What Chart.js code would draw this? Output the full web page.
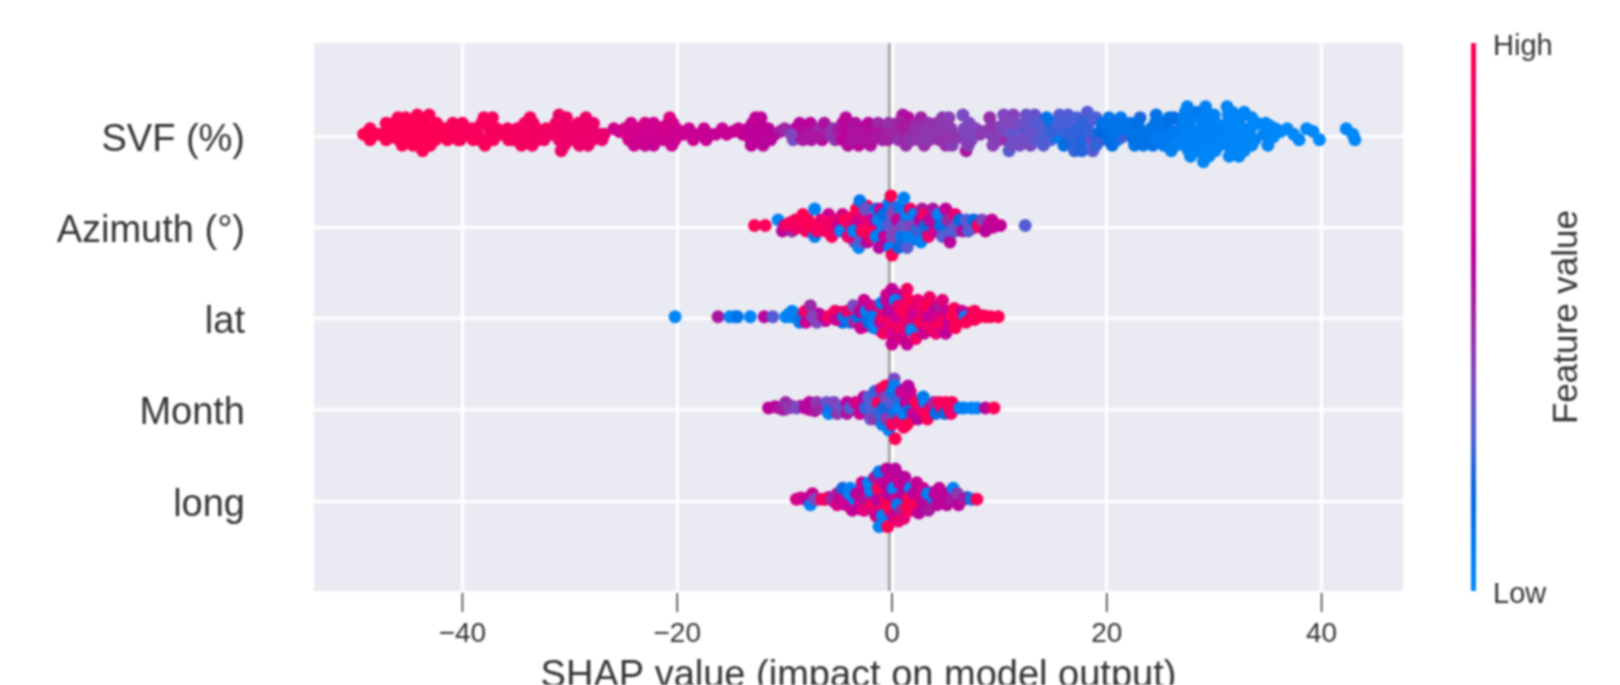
<!DOCTYPE html>
<html>
<head>
<meta charset="utf-8">
<title>SHAP summary</title>
<script src="https://cdn.jsdelivr.net/npm/chart.js@4"></script>
<style>
html, body { margin: 0; padding: 0; background: #fff; overflow: hidden; }
canvas { display: block; filter: blur(0.8px); }
</style>
</head>
<body>
<canvas id="myChart" width="1620" height="685"></canvas>
<script>
// names of the rows, top to bottom, and where they sit on the y scale
const features = ['SVF (%)', 'Azimuth (°)', 'lat', 'Month', 'long'];
const rowPos = [4, 3, 2, 1, 0];
const xTicks = [-40, -20, 0, 20, 40];

// every dot: [shap value, swarm lane, feature value 0-1]
const svfDots = [
[-49.2,0,.99],[-48.6,1,.99],[-48.6,-1,.99],[-48.2,0,.98],[-47.4,0,.98],[-47.1,2,.98],[-47.1,-1,.97],[-46.7,1,.97],
[-46,3,.98],[-45.9,1,.98],[-45.9,-1,.98],[-45.6,-2,.97],[-45.3,3,.97],[-45.3,0,.98],[-44.9,2,.99],[-44.6,-2,.98],
[-44.2,3.5,.98],[-44.2,1,.99],[-44,-1,.99],[-43.7,-3,.98],[-43.6,2,.98],[-43.4,0,.99],[-43.1,3.5,.97],[-43,-2,.98],
[-42.7,1,.98],[-42.5,-1,.99],[-42.4,2,.97],[-41.7,1,.97],[-41.4,-1,.98],[-40.9,2,.96],[-40.8,0,.93],[-40.2,-1,.96],
[-40,2,.93],[-39.7,0,.95],[-39.3,1,.96],[-39,-1,.95],[-38.6,0,.95],[-38.2,2,.96],[-38,3,.95],[-37.9,-2,.95],
[-37.5,1,.95],[-37.2,3,.95],[-37.1,-1,.96],[-36.8,1,.94],[-36.2,0,.94],[-35.8,1,.93],[-35.7,-1,.93],[-35.2,-1,.94],
[-34.9,1,.93],[-34.5,-2,.92],[-34.2,2,.92],[-33.9,0,.93],[-33.7,3,.92],[-33.5,-2,.92],[-33.1,1,.93],[-33,-1,.91],
[-32.4,-1,.91],[-32.2,1,.92],[-31.8,0,.9],[-31.3,2,.91],[-31,-1,.9],[-31,3.5,.88],[-30.8,-3,.89],[-30.7,1,.9],
[-30.5,-2,.88],[-30.3,3,.88],[-29.9,1,.9],[-29.6,-1,.88],[-29.2,2,.89],[-29.1,-2,.87],[-28.7,0,.89],[-28.5,3,.88],
[-28.3,-2,.87],[-28,1,.88],[-27.9,-1,.87],[-27.8,2,.87],[-27.2,0,.85],[-26.8,0,.84],[-27,-1,.86],[-25.9,1,.73],
[-25.4,.5,.72],[-24.7,0,.75],[-24.5,-1,.76],[-24.3,2,.74],[-24,-2,.7],[-23.6,1,.75],[-23.3,-1,.78],[-23,-2,.68],
[-23,2,.75],[-22.6,0,.73],[-22.2,-2,.66],[-22.2,2,.72],[-21.6,1,.72],[-21.3,-1,.72],[-20.8,0,.71],[-20.7,3,.78],
[-20.5,-2,.7],[-20.4,2,.76],[-20.1,1,.72],[-19.4,0,.7],[-18.9,1,.7],[-18.5,-1,.68],[-18,0,.7],[-17.5,1,.68],
[-17.3,-1,.68],[-17,0,.66],[-16.4,0,.67],[-15.8,1,.68],[-15.4,0,.66],[-14.8,.5,.66],[-14.3,1,.68],[-13.9,0,.66],
[-13.4,1,.62],[-13.1,-2,.62],[-13,2,.6],[-12.7,3,.65],[-12.5,-1,.62],[-12.4,1,.63],[-12.2,3,.64],[-12,-2,.6],
[-11.9,0,.63],[-11.5,1,.6],[-11.3,-1,.62],[-10.9,0,.6],[-10.4,.5,.55],[-10,1,.5],[-9.2,-1,.37],[-9,1,.58],
[-8.8,0,.6],[-8.6,2,.6],[-8.3,-1,.55],[-8,1,.58],[-7.6,2,.6],[-7.5,-1,.55],[-7.1,0,.56],[-6.8,1,.5],
[-6.5,-1,.6],[-6.3,2,.56],[-5.9,0,.48],[-5.5,1,.46],[-5.3,-1,.46],[-5,0,.5],[-4.6,2,.58],[-4.6,-1,.62],
[-4.3,3,.6],[-4.1,0,.62],[-4.1,-2,.58],[-3.4,2,.57],[-3.2,0,.48],[-3.1,-2,.6],[-2.7,1,.63],[-2.4,-1,.55],
[-2.2,2,.6],[-2,-2,.58],[-1.9,0,.62],[-1.3,2,.5],[-1.1,0,.64],[-.9,-1,.5],[-.6,1,.52],[-.4,-1,.52],
[-.3,2,.48],[.5,2,.5],[.6,-1,.46],[1,3.5,.56],[1.1,0,.52],[1.3,-2,.48],[1.5,3,.58],[1.6,1,.52],
[1.9,-1,.46],[2.2,2,.5],[2.7,3,.52],[2.9,0,.45],[3,-2,.48],[3.4,2,.46],[3.5,-1,.45],[4.2,2,.47],
[4.4,-1,.48],[4.7,3,.45],[4.9,0,.5],[5,-2,.48],[5.3,3,.42],[5.5,1,.44],[5.6,-2,.42],[6,-.5,.45],
[6.6,3.5,.38],[6.7,1,.4],[6.8,-1,.42],[6.9,-3,.55],[7.2,2,.38],[7.4,-1,.38],[7.8,1,.42],[8.2,0,.44],
[8.6,.5,.44],[9.1,3,.48],[9.2,0,.42],[9.4,-2,.42],[9.8,1,.42],[10,-1,.45],[10.4,3.5,.4],[10.6,1,.38],
[10.7,-1,.5],[10.9,-3,.3],[11.3,3.5,.42],[11.4,-1,.4],[11.7,1,.3],[11.9,-2,.38],[12.3,1,.2],[12.5,3.5,.35],
[12.7,-1,.38],[12.9,-2,.38],[13.1,1,.36],[13.3,3.5,.34],[13.4,-1,.32],[13.8,0,.32],[14.1,-2,.3],[14.4,3,.12],
[14.5,1,.28],[14.8,-1,.28],[15,2,.12],[15.4,-.5,.08],[15.6,3.5,.3],[15.8,1,.3],[16,-2,.15],[16.4,3.5,.3],
[16.4,-1,.2],[16.9,1,.28],[17,-3,.25],[17.2,3,.28],[17.5,-1,.22],[17.7,-3,.22],[17.8,1,.2],[18.2,4,.3],
[18.3,2,.28],[18.5,-1,.35],[18.7,-3,.3],[19,0,.22],[19,3,.28],[19.5,2,.12],[19.6,-1,.3],[19.9,0,.1],
[20.2,3,.1],[20.5,-2,.15],[20.8,1,.15],[21,-1,.1],[21.3,3,.1],[21.4,-.5,.25],[22.2,2,.1],[22.5,-1,.15],
[22.9,0,.12],[23.1,3,.22],[23.4,-2,.1],[24.1,1,.12],[24.3,-2,.12],[24.6,3.5,.12],[24.9,0,.08],[25.2,2,.12],
[25.3,-2,.08],[25.7,1,.14],[26,-3,.05],[26.2,3,.18],[26.5,-1,.06],[26.8,1,.1],[27.1,3,.06],[27.2,-2,.05],
[27.5,5,.05],[27.6,1,.04],[27.8,-4,.03],[28,3,.05],[28.1,-1,.04],[28.4,4,.08],[28.5,-3,.04],[28.7,1,.05],
[29,-5,.03],[29.2,5,.05],[29.2,-2,.05],[29.3,2,.04],[29.5,-4,.03],[29.6,0,.06],[30,3.5,.04],[30.1,-3,.03],
[30.4,1,.05],[30.7,-1,.04],[31.2,5,.04],[31.2,2,.03],[31.3,-2,.04],[31.4,-4,.02],[31.7,4,.03],[31.9,0,.03],
[32.3,-4,.03],[32.3,2,.03],[32.8,4,.03],[32.9,-2,.02],[33.2,1,.03],[33.5,3,.02],[33.8,-1,.03],[34,2,.02],
[34.8,2,.03],[35,-2,.03],[35.2,0,.02],[35.7,1,.02],[36.8,1,.02],[37.4,0,.02],[37.9,-1,.02],[38.6,1,.02],
[39.2,.5,.02],[39.8,-1,.01],[42.3,1,.02],[42.9,0,.02],[43.1,-1,.02],
[-47.8,0,.98],[-46.5,-.5,.98],[-46.4,2,.98],[-45.7,0,.98],[-45.2,-1.5,.98],[-44.8,0,.99],[-44.5,1,.99],[-44.3,-1,.98],
[-43.9,2,.99],[-43.8,-2,.98],[-43.2,1,.99],[-42.9,-.5,.98],[-42.3,0,.98],[-41.9,0,.97],[-41.2,.5,.96],[-40.5,1,.95],
[-40.4,-1,.96],[-39.9,0,.95],[-38.9,1,.95],[-38.4,-1,.95],[-37.7,-1,.95],[-37.7,2,.95],[-37.3,0,.94],[-36.6,0,.94],
[-35,0,.93],[-34.6,1,.92],[-34.4,-1,.92],[-33.7,1,.92],[-33.4,2,.92],[-33.3,0,.91],[-32.7,0,.91],[-31.2,0,.9],
[-30.9,1.5,.9],[-30.6,-1,.89],[-30.2,1.5,.89],[-30,-1,.88],[-29.5,.5,.88],[-29.3,-1,.88],[-28.8,1,.88],[-28.6,-1,.87],
[-28.2,0,.87],[-27.6,0,.86],[-24.9,1,.75],[-24.2,0,.74],[-23.9,1,.74],[-23.8,-1,.72],[-23.2,.5,.74],[-22.9,-1,.7],
[-22.4,1,.72],[-22,-.5,.7],[-21.9,0,.72],[-21.1,1.5,.74],[-20.9,-1,.7],[-20.3,0,.72],[-20.2,-1,.7],[-19.7,.5,.7],
[-13.3,-.5,.62],[-13,0,.62],[-12.6,2,.64],[-12.3,-.5,.62],[-12.1,1.5,.62],[-11.7,-1,.6],[-9.4,0,.4],[-7.9,0,.56],
[-7.8,-.5,.55],[-6.9,-.5,.55],[-4.9,1,.55],[-4.4,1,.6],[-3.8,-.5,.58],[-3.6,1,.56],[-3.5,-1,.55],[-2.9,.5,.56],
[-2.6,-1,.56],[-2.1,.5,.58],[-1.6,-.5,.55],[.3,.5,.5],[.8,2,.5],[1,1.5,.54],[1.2,-1,.5],[1.7,-1,.46],
[2,.5,.48],[2.5,-1,.46],[2.6,1,.48],[3.2,1,.46],[3.3,-.5,.44],[3.9,0,.46],[4.1,1,.46],[4.5,-.5,.46],
[4.6,1,.45],[5.1,1.5,.44],[5.2,-.5,.46],[6.9,.5,.4],[7.1,-2,.42],[7.4,1,.4],[9.3,1.5,.45],[9.5,-.5,.42],
[10,.5,.42],[10.2,1.5,.4],[10.8,.5,.36],[10.8,2,.4],[11.1,-2,.36],[11.5,.5,.32],[11.6,2,.38],[12.2,-.5,.36],
[12.6,2,.34],[12.8,.5,.34],[13.5,2,.3],[14.2,-.5,.28],[14.9,.5,.25],[15.5,2,.28],[16,.5,.25],[16.2,2,.28],
[16.6,0,.25],[17,-1,.24],[17.3,1,.24],[17.6,-2,.22],[17.8,2,.24],[18.3,.5,.25],[18.6,3,.28],[19,-2,.25],
[19.4,.5,.18],[20,1.5,.12],[20.2,-1,.15],[20.6,0,.12],[20.9,2,.12],[21.3,1,.12],[22.3,.5,.12],[22.6,-2,.12],
[22.9,2,.14],[23.3,.5,.12],[23.3,-1,.12],[24.2,-.5,.1],[24.5,2,.12],[24.7,-1,.08],[25,1,.1],[25.4,-.5,.08],
[25.8,3,.12],[25.9,-1,.08],[26.2,.5,.08],[26.4,-2,.05],[26.9,-1,.05],[27,1,.06],[27.3,4,.05],[27.4,-.5,.04],
[27.6,-3,.03],[27.7,2.5,.05],[28,-2,.04],[28.2,.5,.05],[28.6,-1,.04],[28.8,3,.05],[28.9,-2,.04],[29,-3.5,.03],
[29.2,1,.04],[29.4,3.5,.04],[29.6,-2.5,.03],[30,.5,.05],[30.1,-1,.04],[30.2,2,.04],[30.5,-2,.03],[30.9,.5,.04],
[31.3,3.5,.03],[31.4,-.5,.03],[31.6,1,.03],[31.8,-2.5,.03],[32,2.5,.03],[32.2,-1,.03],[32.5,.5,.03],[32.6,3.5,.03],
[32.8,-3,.02],[33,-.5,.03],[33.4,1,.03],[33.5,-2,.02],[33.8,2,.02],[34.6,0,.03],[35.2,1.5,.02],[35.5,-.5,.02],
[36.2,.5,.02]
];
const azimuthDots = [
[-12.8,0,.98],[-11.8,0,.95],[-10.6,1,.03],[-10.2,-1,.6],[-9.7,0,.85],[-9.3,-1,.5],[-9,1,.95],[-8.6,0,.98],
[-8.3,2,.98],[-8,-1,.9],[-7.8,1,.97],[-7.2,3,.05],[-7.2,-2,.08],[-6.9,0,.98],[-6.6,1,.85],[-6.2,-1,.9],
[-5.9,2,.7],[-5.8,0,.93],[-5.6,-2,.95],[-5.2,1,.85],[-10,0,.85],[-9.5,.5,.95],[-8.9,-.5,.9],[-8.5,1,.97],
[-7.6,0,.98],[-7,-1,.9],[-6.5,-.5,.95],[-6.2,.7,.9],[-5.5,-1,.9],[-5,0,.7],[-4.6,2,.75],[-4.2,-.5,.95],
[-3.7,1.5,.95],[-3.5,-3,.4],[-3.4,.5,.98],[-2.6,-2,.7],[-2.3,3.5,.95],[-1.8,-1,.95],[-1.6,-.3,.75],[-1.1,1.5,.65],
[-.9,-3,.6],[-.6,1,.4],[-.5,-1,.65],[.1,.5,.35],[.4,-3,.4],[.6,2,.35],[.8,-.7,.35],[1.3,.8,.4],
[1.4,-1,.4],[2,-2.5,.1],[2.3,.5,.35],[2.9,-1.5,.7],[3.2,1.5,.7],[3.8,-.5,.65],[4.2,1,.1],[4.6,-.8,.3],
[5,1.5,.6],[5.3,.2,.4],[5.9,-1,.35],[6.4,0,.3],[6.9,-.3,.3],[7.3,.8,.35],[7.5,-.5,.95],[8,.8,.5],
[8.3,-.3,.65],[9.4,-.3,.65],
[-4.8,-1,.04],[-4.4,1,.98],[-4.1,-2,.85],[-3.9,0,.85],
[-3.6,-1,.05],[-3.3,3,.98],[-3.1,1,.7],[-3.1,-4,.05],[-3,4.5,.1],[-2.9,-3,.3],[-2.8,-1,.95],[-2.6,2,.85],
[-2.5,3,.35],[-2.3,-3,.6],[-2.2,0,.98],[-2,-2,.95],[-1.9,1,.7],[-1.5,3,.1],[-1.5,-2,.05],[-1.3,1,.05],
[-1.2,-4,.6],[-1.1,3,.68],[-.9,-1,.05],[-.8,2,.15],[-.7,-2,.65],[-.4,0,.3],[-.3,4,.1],[-.2,-4,.05],
[-.1,5.4,.98],[0,2,.4],[0,-2,.4],[0,-5.4,.98],[.2,-1,.4],[.3,3,.4],[.5,1,.65],[.6,-4,.2],
[.7,3.5,.1],[.9,-2,.1],[1,0,.35],[1.1,5,.05],[1.3,2,.05],[1.4,-4,.3],[1.6,-2,.05],[1.7,3,.9],
[1.8,0,.4],[2,2,.05],[2.3,-1,.25],[2.6,1,.6],[2.7,-3,.05],[2.8,3,.55],[3,2,.9],[3.1,0,.2],
[3.4,-2,.85],[3.5,1,.6],[3.8,3,.55],[4,-1,.7],[4.3,2,.05],[4.5,0,.15],[4.7,-2,.3],[5,3,.65],
[5.2,1,.5],[5.4,-3,.6],[5.6,-1,.3],[5.9,2,.85],[6,0,.35],[6.3,1,.15],[6.6,-1,.6],[6.9,1,.3],
[7.1,-1,.3],[7.6,1,.15],[8,0,.95],[8.4,1,.4],[8.7,-1,.6],[9,0,.6],[9.3,1,.65],[9.7,0,.65],
[10.1,0,.65],[12.4,0,.3]
];
const latDots = [
[-9.6,.5,.05],[-8.8,0,.1],[-8.4,.5,.85],[-7.8,.2,.45],[-6.8,.5,.6],[-6.2,-.7,.65],[-5.6,.4,.9],[-4.9,-.3,.3],
[-4.8,.8,.75],[-4.6,-1,.2],[-3.9,.5,.4],[-3.4,1.5,.4],[-3,-.7,.2],[-2.7,.5,.3],[-2.4,2,.7],[-2.5,-1.7,.7],
[-1.5,1,.2],[-1.4,-.5,.15],[-1.1,-2.5,.75],[-.8,1.5,.7],[-.6,-1.5,.8],[-.5,4,.7],[-.2,.5,.8],[-.2,-3,.75],
[.1,2,.85],[.2,-1,.9],[.5,4,.7],[.7,-.3,.85],[.8,-3,.95],[1,3,.75],[1.4,.5,.9],[1.5,-2.5,.8],
[1.7,2,.95],[1.9,-.5,.8],[2.4,1.5,.9],[2.4,-1.5,.7],[2.9,-.3,.85],[3.3,1.2,.98],[3.6,-.8,.85],[4.1,1.8,.75],
[4.4,-2,.95],[4.9,.5,.8],[5,-1.5,.8],[5.5,1,.95],[6.4,-.7,.95],[7.1,.7,.9],[7.7,-.5,.95],[8.5,.2,.98],
[9.2,0,.98],
[-20.2,0,.03],[-16.2,0,.55],[-15.1,0,.03],[-14.6,0,.03],[-14.4,0,.12],[-13.2,0,.03],[-11.9,0,.6],[-11.1,0,.3],
[-9.9,0,.04],[-9.4,0,.05],[-9.3,1,.05],[-8.6,-1,.1],[-8.1,1,.9],[-8,-1,.7],[-7.6,2,.5],[-7.4,0,.4],
[-7,-1,.4],[-6.4,0,.65],[-5.9,0,.9],[-5.3,1,.9],[-5.2,-.5,.7],[-4.5,0,.1],[-4.2,1,.85],[-3.9,-1,.1],
[-3.6,2,.4],[-3.5,-1,.5],[-3.2,0,.15],[-3,1,.6],[-2.9,-2,.7],[-2.6,3,.7],[-2.4,1,.06],[-2.2,-1,.15],
[-2,2,.7],[-1.8,0,.08],[-1.7,-2,.04],[-1.3,2,.85],[-1.1,-1,.7],[-1,2.5,.08],[-.9,0,.9],[-.8,-3,.9],
[-.5,3,.7],[-.4,1,.6],[-.2,-1,.9],[0,5,.65],[0,-5,.7],[.1,-3,.75],[.3,3,.05],[.4,0,.7],
[.6,2,.85],[.7,-2,.9],[.9,-4,.75],[1,1,.98],[1.2,-1,.85],[1.4,5,.9],[1.4,-5,.65],[1.6,3,.98],
[1.8,-2.4,.04],[1.9,1,.8],[2.1,0,.7],[2.2,-4,.9],[2.4,3,.85],[2.6,-1,.95],[2.8,1,.85],[3,-3,.7],
[3.2,2,.98],[3.3,0,.7],[3.5,3.5,.9],[3.6,-2,.9],[3.9,1,.65],[4.1,-3,.85],[4.2,0,.75],[4.4,2,.55],
[4.6,-1,.95],[4.7,3,.8],[5,-3,.65],[5.2,1,.7],[5.3,-1,.65],[5.6,0,.98],[5.8,1.5,.98],[5.9,-2,.98],
[6.2,0,.98],[6.5,1,.7],[6.8,0,.04],[6.9,-1,.95],[7.4,0,.95],[7.7,1,.95],[8.2,0,.98],[8.8,0,.98],
[9.9,0,.99]
];
const monthDots = [
[-10.9,.2,.6],[-10.1,-.3,.5],[-9.3,.3,.45],[-8.5,.3,.6],[-7.6,-.3,.65],[-6.4,.3,.5],[-5.2,.2,.1],[-4.5,.3,.45],
[-3.6,-.2,.6],[-3.2,.7,.6],[-2.6,-.7,.3],[-2.3,.7,.3],[-1.8,1.3,.65],[-1.4,-.6,.3],[-1.1,2,.6],[-.7,-1,.3],
[-.4,1,.25],[-.4,3,.7],[-.2,-1.8,.3],[.2,-.5,.35],[.2,2,.06],[.5,3.5,.6],[.6,-1.5,.8],[.9,1,.05],
[1.1,-2.5,.5],[1.4,.2,.15],[1.7,3,.8],[1.9,-2,.98],[2.1,.3,.8],[2.6,1,.7],[3,-.5,.65],[3.4,.6,.6],
[3.9,-.7,.9],[4.2,.2,.9],[4.8,.5,.95],[5.8,.2,.97],
[-11.5,0,.62],[-10.5,0,.55],[-9.9,1,.5],[-9.6,0,.45],[-8.9,0,.38],[-8.1,0,.6],[-7.7,1,.6],[-7.2,-.5,.55],
[-7,1,.45],[-6.6,0,.5],[-6.1,1,.35],[-5.9,-1,.06],[-5.7,0,.1],[-5.4,1,.4],[-5.1,-1,.45],[-4.8,0,.35],
[-4.2,1,.6],[-4.2,-1,.55],[-3.9,0,.3],[-3.4,1,.75],[-3,-1,.7],[-2.9,0,.7],[-2.6,2,.6],[-2.5,0,.25],
[-2.2,2,.3],[-2,-2,.35],[-1.9,0,.3],[-1.6,3,.25],[-1.6,-2,.45],[-1.3,1,.95],[-1.2,-1,.25],[-1,3.5,.8],
[-.9,-3,.08],[-.8,0,.2],[-.6,4,.98],[-.6,2,.4],[-.5,-2,.45],[-.3,-4,.05],[-.1,1,.3],[0,3,.1],
[0,-3,.9],[.2,5.3,.38],[.2,4,.05],[.3,-1,.1],[.3,-5.6,.99],[.5,2,.25],[.6,0,.04],[.7,-2,.95],
[.9,3,.7],[1,-1,.05],[1.1,-3.5,.97],[1.3,1,.6],[1.4,-3,.98],[1.5,4,.6],[1.6,-.5,.2],[1.7,2,.7],
[2,-1,.7],[2.2,1,.95],[2.4,-2,.6],[2.7,0,.85],[2.9,2,.1],[3.1,1,.04],[3.1,-1,.98],[3.3,-2,.97],
[3.6,0,.85],[3.9,1,.5],[4.1,-1,.15],[4.4,1,.95],[4.6,0,.9],[4.9,-1,.2],[5,1,.97],[5.3,0,.97],
[5.5,-1,.9],[5.6,1,.95],[6.3,0,.04],[6.7,0,.06],[7.4,0,.05],[7.9,0,.04],[8.7,0,.6],[9.5,0,.99]
];
const longDots = [
[-8.5,.2,.7],[-7.8,.2,.6],[-6.9,0,.9],[-5.9,.3,.6],[-5.4,-.4,.7],[-4.5,.5,.6],[-4.2,-.2,.6],[-3.7,-.9,.65],
[-3.2,-.3,.1],[-2.9,1.5,.05],[-2.9,-1.8,.7],[-2.4,-1,.65],[-1.9,.5,.6],[-1.8,2.5,.7],[-1.6,-1,.9],[-1,.8,.7],
[-.8,-1.5,.95],[-.8,1.8,.6],[-.7,4.5,.05],[-.5,-3.5,.1],[-.3,2,.7],[-.1,-.5,.55],[0,-1,.7],[.1,3,.6],
[.3,-1.8,.98],[.6,1,.65],[.6,4.3,.6],[.8,-2.5,.7],[1.3,2,.65],[1.6,-1,.95],[2,-.3,.6],[2.4,.9,.55],
[2.6,1.8,.6],[3,.5,.6],[3.2,-1.7,.55],[3.7,1.2,.65],[3.9,-.9,.6],[4.8,.5,.5],[5.3,-.4,.55],[5.9,.8,.55],
[6.3,0,.5],[7,.3,.2],
[-8.9,0,.75],[-8.1,0,.65],[-7.6,-1,.05],[-7.4,1,.7],[-7.2,0,.4],[-6.5,0,.97],[-6.2,0,.9],[-5.6,0,.5],
[-5.1,1,.55],[-5.1,-1,.75],[-4.8,0,.7],[-4.6,2,.2],[-4.3,-1,.7],[-4,1,.03],[-3.9,2,.05],[-3.7,-2,.65],
[-3.5,0,.04],[-3.3,1,.6],[-3,-1,.7],[-2.8,3,.7],[-2.6,1,.65],[-2.6,-2,.8],[-2.3,0,.55],[-2.2,3,.05],
[-2,1.5,.05],[-1.9,-1,.95],[-1.7,-2,.85],[-1.6,4,.55],[-1.5,-3,.7],[-1.4,0,.6],[-1.3,2,.98],[-1.2,5,.1],
[-1.1,-4,.9],[-1.2,-5,.04],[-.9,-3,.05],[-.8,3,.65],[-.6,0,.95],[-.5,5.5,.6],[-.4,1,.6],[-.4,-5,.99],
[-.2,-2,.98],[-.1,4,.65],[.1,-3,.7],[.1,2,.05],[.3,5.5,.6],[.4,0,.7],[.5,-1,.08],[.6,-4,.85],
[.7,3,.65],[.9,-2,.5],[1,1,.6],[1.1,-3.5,.85],[1.2,4,.6],[1.4,-1.5,.98],[1.5,0,.98],[1.7,2,.04],
[1.8,-2,.95],[2,1,.65],[2.2,-1,.98],[2.3,3,.65],[2.5,-2.5,.6],[2.7,0,.7],[2.9,2,.7],[3,-1,.6],
[3.3,1,.05],[3.4,-2,.55],[3.9,0,.1],[4,1,.6],[4.2,-1,.6],[4.4,2,.65],[4.6,0,.6],[5,1,.6],
[5.1,-1,.6],[5.6,0,.55],[5.7,2,.05],[6.1,1,.45],[6.2,-1,.6],[6.7,0,.55],[7.4,0,.1],[7.9,0,.97]
];
const allDots = [svfDots, azimuthDots, latDots, monthDots, longDots];

// colour bar stops, feature value -> rgb
const cmapPos = [0, 0.175, 0.284, 0.39, 0.5, 0.61, 0.72, 0.825, 1];
const cmapRgb = [[0,139,251],[0,104,224],[76,96,216],[126,72,192],[156,40,164],[187,0,154],[208,0,144],[230,0,117],[255,0,81]];

const laneStep = 0.06;
const swarmShift = 0.02;
const zeroLine = [{x: -0.25, y: -0.986}, {x: -0.25, y: 5.02}];
const textColor = '#333333';
const fontName = '"Liberation Sans", Arial, sans-serif';
// the labels sit a few pixels under their grid lines, so their axes are nudged
const rowLabelShift = 0.044;
const barLabelShift = 0.0073;

function cmap(v) {
    let i = 0;
    while (i < cmapPos.length - 2 && v > cmapPos[i + 1]) i++;
    const t = (v - cmapPos[i]) / (cmapPos[i + 1] - cmapPos[i]);
    const c = cmapRgb[i].map((a, k) => Math.round(a + (cmapRgb[i + 1][k] - a) * t));
    return 'rgb(' + c.join(',') + ')';
}

// tick padding counts as space above and below the vertical axes, take it out again
function noVerticalPadding(axis) {
    axis.paddingTop = 0;
    axis.paddingBottom = 0;
}

const dotSets = allDots.map((dots, r) => ({
    label: features[r],
    data: dots.map(d => ({x: d[0], y: rowPos[r] + swarmShift + d[1] * laneStep})),
    backgroundColor: dots.map(d => cmap(d[2])),
    borderWidth: 0,
    pointRadius: 6.5,
    order: 1
}));

// plot background, the x tick marks (they stand off the axes) and the colour bar
const extras = {
    id: 'extras',
    beforeDraw(chart) {
        const a = chart.chartArea;
        chart.ctx.fillStyle = '#eaeaf2';
        chart.ctx.fillRect(a.left, a.top, a.right - a.left, a.bottom - a.top);
    },
    afterDraw(chart) {
        const ctx = chart.ctx, a = chart.chartArea;
        ctx.save();
        ctx.strokeStyle = textColor;
        ctx.lineWidth = 1.5;
        xTicks.forEach(v => {
            const px = chart.scales.x.getPixelForValue(v);
            ctx.beginPath();
            ctx.moveTo(px, a.bottom + 2);
            ctx.lineTo(px, a.bottom + 21);
            ctx.stroke();
        });
        const grad = ctx.createLinearGradient(0, a.bottom, 0, a.top);
        cmapPos.forEach(p => grad.addColorStop(p, cmap(p)));
        ctx.fillStyle = grad;
        ctx.fillRect(1471, a.top, 5, a.bottom - a.top);
        ctx.fillStyle = textColor;
        ctx.font = '35px ' + fontName;
        ctx.textAlign = 'center';
        ctx.textBaseline = 'middle';
        ctx.translate(1567, (a.top + a.bottom) / 2);
        ctx.rotate(-Math.PI / 2);
        ctx.fillText('Feature value', 0, 0);
        ctx.restore();
    }
};

var myChart = new Chart(document.getElementById('myChart'), {
    type: 'scatter',
    data: {
        datasets: dotSets.concat([{
            label: 'zero',
            data: zeroLine,
            showLine: true,
            borderColor: '#a8a8a8',
            borderWidth: 3,
            pointRadius: 0,
            order: 5
        }])
    },
    options: {
        responsive: false,
        animation: false,
        layout: { padding: { top: 43 } },
        plugins: { legend: { display: false }, tooltip: { enabled: false } },
        scales: {
            x: {
                type: 'linear',
                min: -53.82,
                max: 47.58,
                afterBuildTicks: axis => { axis.ticks = xTicks.map(v => ({value: v})); },
                afterFit: axis => { axis.height = 94; },
                grid: { color: '#ffffff', lineWidth: 3, drawTicks: false },
                border: { display: false },
                ticks: {
                    autoSkip: false,
                    maxRotation: 0,
                    padding: 26,
                    color: textColor,
                    font: { family: fontName, size: 28 },
                    callback: v => String(v).replace('-', '\u2212')
                },
                title: {
                    display: true,
                    text: 'SHAP value (impact on model output)',
                    color: textColor,
                    font: { family: fontName, size: 38 },
                    padding: { top: 0, bottom: -14 }
                }
            },
            y: {
                type: 'linear',
                min: -0.986,
                max: 5.02,
                afterBuildTicks: axis => { axis.ticks = rowPos.map(v => ({value: v})); },
                afterFit: axis => { axis.width = 0; noVerticalPadding(axis); },
                grid: { color: '#ffffff', lineWidth: 3, drawTicks: false },
                border: { display: false },
                ticks: { display: false }
            },
            rowNames: {
                type: 'linear',
                position: 'left',
                min: -0.986 + rowLabelShift,
                max: 5.02 + rowLabelShift,
                afterBuildTicks: axis => { axis.ticks = rowPos.map(v => ({value: v})); },
                afterFit: axis => { axis.width = 314; noVerticalPadding(axis); },
                grid: { display: false, drawTicks: false },
                border: { display: false },
                ticks: {
                    autoSkip: false,
                    padding: 69,
                    color: textColor,
                    font: { family: fontName, size: 38 },
                    callback: v => features[rowPos.indexOf(v)]
                }
            },
            cb: {
                type: 'linear',
                position: 'right',
                min: barLabelShift,
                max: 1 + barLabelShift,
                afterBuildTicks: axis => { axis.ticks = [{value: 0}, {value: 1}]; },
                afterFit: axis => { axis.width = 217; noVerticalPadding(axis); },
                grid: { display: false, drawTicks: false },
                border: { display: false },
                ticks: {
                    autoSkip: false,
                    padding: 90,
                    color: textColor,
                    font: { family: fontName, size: 29 },
                    callback: v => (v === 1 ? 'High' : 'Low')
                }
            }
        }
    },
    plugins: [extras]
});
</script>
</body>
</html>
